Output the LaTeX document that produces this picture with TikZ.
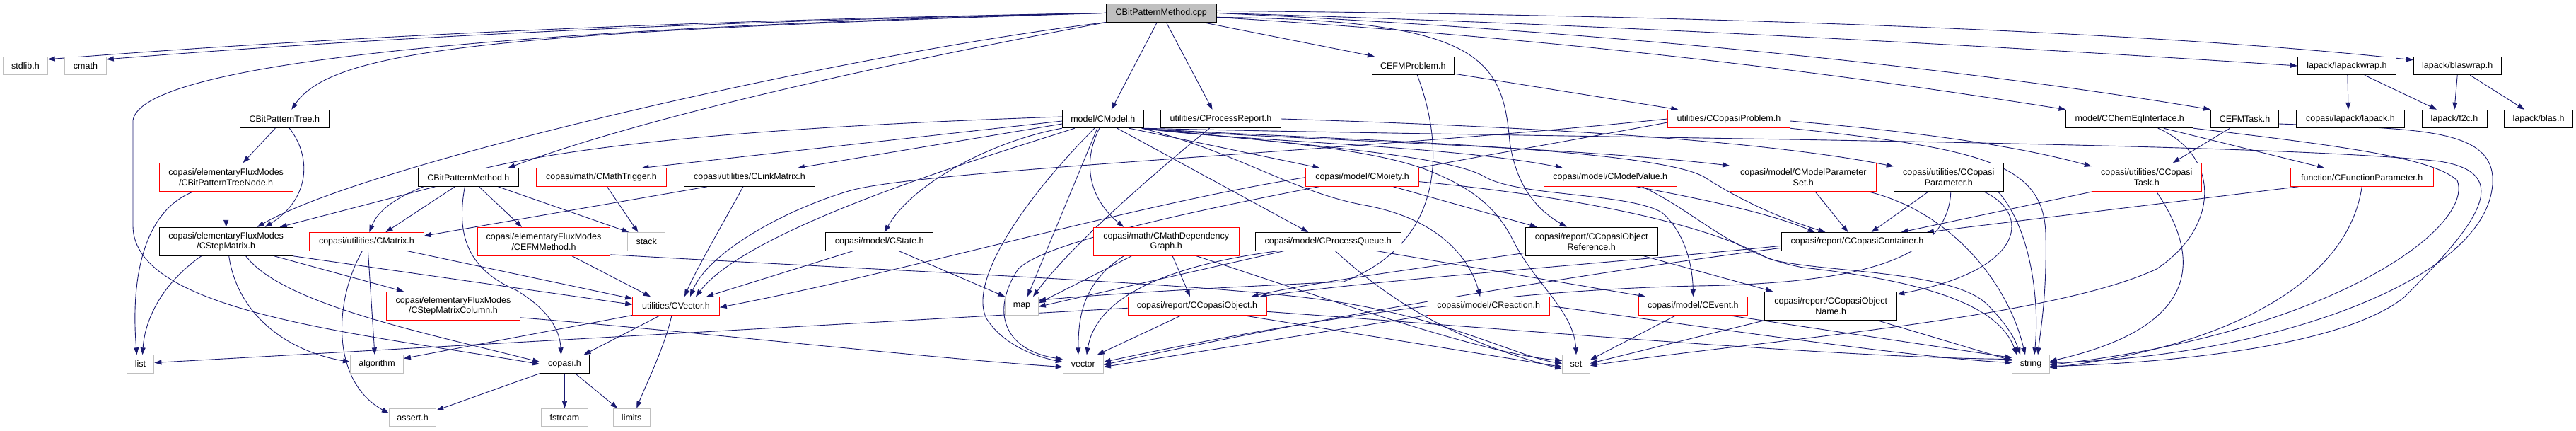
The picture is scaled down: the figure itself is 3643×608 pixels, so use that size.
\documentclass[tikz,border=0pt]{standalone}
\usepackage{fontspec}
\setmainfont{Liberation Sans}
\usetikzlibrary{arrows.meta}
\definecolor{edgec}{HTML}{191970}
\definecolor{graybd}{HTML}{BFBFBF}
\definecolor{rootfill}{HTML}{BFBFBF}
\definecolor{redbd}{HTML}{FF0000}
\pgfdeclarelayer{background}
\pgfsetlayers{background,main}
\tikzset{
 nd/.style={rectangle, inner sep=0pt, minimum height=25.4pt, align=center, fill=white, line width=1pt,
   font=\fontsize{12.5}{14.5}\selectfont},
 blk/.style={nd, draw=black},
 rdn/.style={nd, draw=redbd},
 gry/.style={nd, draw=graybd},
 dbl/.style={minimum height=40pt},
 e/.style={draw=edgec, line width=0.9pt, -{Triangle[length=10pt,width=7pt]}},
}
\begin{document}
\begin{tikzpicture}[x=1pt,y=1pt]
\useasboundingbox (0,0) rectangle (3643,-608);
% row 0
\node[blk, fill=rootfill, minimum width=156pt] (root) at (1642.3,-18.4) {CBitPatternMethod.cpp};
% row 1
\node[gry, minimum width=62.5pt] (stdlib) at (36,-93) {stdlib.h};
\node[gry, minimum width=58.6pt] (cmath) at (121,-93) {cmath};
\node[blk, minimum width=115.8pt] (CEFMProblem) at (1998.3,-93) {CEFMProblem.h};
\node[blk, minimum width=139.2pt] (lapackwrap) at (3318.9,-93) {lapack/lapackwrap.h};
\node[blk, minimum width=124pt] (blaswrap) at (3475.2,-93) {lapack/blaswrap.h};
% row 2
\node[blk, minimum width=126pt] (CBitPatternTree) at (402.3,-168) {CBitPatternTree.h};
\node[blk, minimum width=115pt] (CModel) at (1559.8,-168) {model/CModel.h};
\node[blk, minimum width=169.6pt] (CProcessReport) at (1726.5,-168) {utilities/CProcessReport.h};
\node[rdn, minimum width=172.6pt] (CCopasiProblem) at (2445,-168) {utilities/CCopasiProblem.h};
\node[blk, minimum width=179.7pt] (CChemEqInterface) at (3011.8,-168) {model/CChemEqInterface.h};
\node[blk, minimum width=95.7pt] (CEFMTask) at (3174.5,-168) {CEFMTask.h};
\node[blk, minimum width=153.6pt] (lapack) at (3324,-168) {copasi/lapack/lapack.h};
\node[blk, minimum width=92pt] (f2c) at (3471,-168) {lapack/f2c.h};
\node[blk, minimum width=97.7pt] (blas) at (3590,-168) {lapack/blas.h};
% row 3
\node[rdn, dbl, minimum width=188.6pt] (CBitPatternTreeNode) at (319.7,-250.6) {copasi/elementaryFluxModes\\/CBitPatternTreeNode.h};
\node[blk, minimum width=142.5pt] (CBitPatternMethodH) at (662.4,-250.6) {CBitPatternMethod.h};
\node[rdn, minimum width=183.9pt] (CMathTrigger) at (850.5,-250.6) {copasi/math/CMathTrigger.h};
\node[blk, minimum width=185.1pt] (CLinkMatrix) at (1059.9,-250.6) {copasi/utilities/CLinkMatrix.h};
\node[rdn, minimum width=159.3pt] (CMoiety) at (1926.5,-250.6) {copasi/model/CMoiety.h};
\node[rdn, minimum width=188.2pt] (CModelValue) at (2277.3,-250.6) {copasi/model/CModelValue.h};
\node[rdn, dbl, minimum width=207.3pt] (CModelParameterSet) at (2550.3,-250.6) {copasi/model/CModelParameter\\Set.h};
\node[blk, dbl, minimum width=155pt] (CCopasiParameter) at (2755.8,-250.6) {copasi/utilities/CCopasi\\Parameter.h};
\node[rdn, dbl, minimum width=155pt] (CCopasiTask) at (3035.8,-250.6) {copasi/utilities/CCopasi\\Task.h};
\node[rdn, minimum width=201.7pt] (CFunctionParameter) at (3340.2,-250.6) {function/CFunctionParameter.h};
% row 4
\node[blk, dbl, minimum width=188.6pt] (CStepMatrix) at (319.7,-341.3) {copasi/elementaryFluxModes\\/CStepMatrix.h};
\node[rdn, minimum width=161.3pt] (CMatrix) at (518.4,-341.3) {copasi/utilities/CMatrix.h};
\node[rdn, dbl, minimum width=187.8pt] (CEFMMethod) at (769,-341.3) {copasi/elementaryFluxModes\\/CEFMMethod.h};
\node[gry, minimum width=53pt] (stack) at (914.3,-341.3) {stack};
\node[blk, minimum width=152pt] (CState) at (1243.8,-341.3) {copasi/model/CState.h};
\node[rdn, dbl, minimum width=205.7pt] (CMathDependencyGraph) at (1649.2,-341.3) {copasi/math/CMathDependency\\Graph.h};
\node[blk, minimum width=205.8pt] (CProcessQueue) at (1878.2,-341.3) {copasi/model/CProcessQueue.h};
\node[blk, dbl, minimum width=186.7pt] (CCopasiObjectReference) at (2250.7,-341.3) {copasi/report/CCopasiObject\\Reference.h};
\node[blk, minimum width=213.6pt] (CCopasiContainer) at (2626.5,-341.3) {copasi/report/CCopasiContainer.h};
% row 5
\node[rdn, dbl, minimum width=188.3pt] (CStepMatrixColumn) at (641,-432.3) {copasi/elementaryFluxModes\\/CStepMatrixColumn.h};
\node[rdn, minimum width=122.6pt] (CVector) at (956,-432.3) {utilities/CVector.h};
\node[gry, minimum width=46.6pt] (map) at (1445,-432.3) {map};
\node[rdn, minimum width=196pt] (CCopasiObject) at (1693,-432.3) {copasi/report/CCopasiObject.h};
\node[rdn, minimum width=171.7pt] (CReaction) at (2105.2,-432.3) {copasi/model/CReaction.h};
\node[rdn, minimum width=153.5pt] (CEvent) at (2394.4,-432.3) {copasi/model/CEvent.h};
\node[blk, dbl, minimum width=187pt] (CCopasiObjectName) at (2589.2,-432.3) {copasi/report/CCopasiObject\\Name.h};
% row 6
\node[gry, minimum width=38.8pt] (list) at (198.5,-514.5) {list};
\node[gry, minimum width=75pt] (algorithm) at (533,-514.5) {algorithm};
\node[blk, minimum width=69.6pt] (copasi) at (798.5,-514.5) {copasi.h};
\node[gry, minimum width=57pt] (vector) at (1531.8,-514.5) {vector};
\node[gry, minimum width=38.6pt] (set) at (2229,-514.5) {set};
\node[gry, minimum width=52.6pt] (string) at (2872,-514.5) {string};
% row 7
\node[gry, minimum width=66.4pt] (assert) at (583.6,-590) {assert.h};
\node[gry, minimum width=65.6pt] (fstream) at (798.5,-590) {fstream};
\node[gry, minimum width=51.8pt] (limits) at (893.2,-590) {limits};

\begin{pgfonlayer}{background}
% ---- edges from root
\draw[e] (root.west) .. controls (1000,-28) and (500,-50) .. ([yshift=-4pt]stdlib.north east);
\draw[e] (root.west) .. controls (1000,-30) and (550,-52) .. ([yshift=-4pt]cmath.north east);
\draw[e] (root.west) .. controls (700,-45) and (470,-70) .. ([xshift=10pt]CBitPatternTree.north);
\draw[e] (root.west) .. controls (700,-40) and (200,-90) .. (188,-170) -- (188,-320) .. controls (190,-440) and (500,-470) .. (copasi.west);
\draw[e] (root.south west) .. controls (1200,-75) and (520,-230) .. ([xshift=44pt]CStepMatrix.north);
\draw[e] (root.south west) .. controls (1200,-100) and (900,-170) .. ([xshift=56pt]CBitPatternMethodH.north);
\draw[e] ([xshift=-6pt]root.south) -- ([xshift=12pt]CModel.north);
\draw[e] ([xshift=7pt]root.south) -- ([xshift=-12pt]CProcessReport.north);
\draw[e] ([xshift=-20pt]root.south east) -- ([xshift=4pt]CEFMProblem.north west);
\draw[e] ([yshift=-6pt]root.east) .. controls (2090,-28) and (2125,-80) .. (2135,-200) .. controls (2145,-270) and (2180,-300) .. ([xshift=-35pt]CCopasiObjectReference.north);
\draw[e] ([yshift=-6pt]root.east) .. controls (2300,-60) and (2700,-120) .. (CChemEqInterface.north west);
\draw[e] (root.east) .. controls (2300,-45) and (2800,-100) .. (CEFMTask.north west);
\draw[e] (root.east) .. controls (2300,-35) and (2900,-70) .. (lapackwrap.west);
\draw[e] ([yshift=3pt]root.east) .. controls (2300,-20) and (3000,-40) .. ([yshift=-5pt]blaswrap.north west);

% ---- row 1
\draw[e] ([yshift=2pt]CEFMProblem.south east) -- ([xshift=15pt]CCopasiProblem.north west);
\draw[e] ([xshift=6pt]CEFMProblem.south) .. controls (2040,-200) and (2050,-340) .. (1900,-398) .. controls (1800,-403) and (1600,-412) .. ([yshift=8pt]map.east);
\draw[e] ([xshift=1pt]lapackwrap.south) -- ([xshift=-3pt]lapack.north);
\draw[e] ([xshift=25pt]lapackwrap.south) -- ([xshift=-25pt]f2c.north);
\draw[e] (blaswrap.south) -- (f2c.north);
\draw[e] ([xshift=18pt]blaswrap.south) -- ([xshift=-20pt]blas.north);

% ---- left part
\draw[e] ([xshift=-13pt]CBitPatternTree.south) -- ([xshift=24pt]CBitPatternTreeNode.north);
\draw[e] ([xshift=7pt]CBitPatternTree.south) .. controls (440,-220) and (440,-280) .. ([xshift=55pt]CStepMatrix.north);
\draw[e] (CBitPatternTreeNode) -- (CStepMatrix);
\draw[e] ([xshift=-47pt]CBitPatternTreeNode.south) .. controls (200,-300) and (185,-400) .. ([xshift=-5pt]list.north);
\draw[e] ([xshift=-35pt]CStepMatrix.south) .. controls (230,-400) and (205,-450) .. ([xshift=3pt]list.north);
\draw[e] ([xshift=4pt]CStepMatrix.south) .. controls (335,-440) and (400,-495) .. ([yshift=3pt]algorithm.west);
\draw[e] ([xshift=68pt]CStepMatrix.south) -- ([xshift=-70pt]CStepMatrixColumn.north);
\draw[e] (CStepMatrix.south east) -- ([yshift=2pt]CVector.west);
\draw[e] ([xshift=28pt]CStepMatrix.south) .. controls (400,-430) and (600,-470) .. ([yshift=3pt]copasi.west);
\draw[e] ([xshift=-6pt]CMatrix.south) .. controls (470,-430) and (470,-540) .. ([yshift=6pt]assert.west);
\draw[e] ([xshift=2pt]CMatrix.south) -- ([xshift=-3pt]algorithm.north);
\draw[e] ([xshift=57pt]CMatrix.south) -- ([yshift=-3pt]CVector.north west);
\draw[e] ([xshift=-47pt]CBitPatternMethodH.south) -- ([xshift=76pt]CStepMatrix.north);
\draw[e] ([xshift=-19pt]CBitPatternMethodH.south) -- ([xshift=27pt]CMatrix.north);
\draw[e] ([xshift=-5pt]CBitPatternMethodH.south) .. controls (645,-330) and (660,-380) .. (730,-410) .. controls (780,-440) and (792,-470) .. ([xshift=-5pt]copasi.north);
\draw[e] ([xshift=15pt]CBitPatternMethodH.south) -- ([xshift=-31pt]CEFMMethod.north);
\draw[e] ([xshift=42pt]CBitPatternMethodH.south) -- ([xshift=2pt]stack.north west);
\draw[e] ([xshift=8pt]CMathTrigger.south) -- ([xshift=-12pt]stack.north);
\draw[e] ([xshift=-60pt]CLinkMatrix.south) -- ([yshift=8pt]CMatrix.east);
\draw[e] ([xshift=-9pt]CLinkMatrix.south) .. controls (1020,-320) and (985,-380) .. ([xshift=12pt]CVector.north);
\draw[e] ([xshift=40pt]CEFMMethod.south) -- ([xshift=-36pt]CVector.north);
\draw[e] ([yshift=2pt]CEFMMethod.south east) .. controls (1300,-385) and (1750,-402) .. (1900,-428) .. controls (2050,-452) and (2150,-505) .. ([yshift=1pt]set.west);
\draw[e] ([xshift=27pt]CState.south) -- (map.north west);
\draw[e] ([xshift=-37pt]CState.south) -- ([xshift=43pt]CVector.north);
\draw[e] (CVector.south west) -- ([yshift=8pt]algorithm.east);
\draw[e] ([xshift=-22pt]CVector.south) -- ([xshift=27pt]copasi.north);
\draw[e] ([xshift=-6pt]CVector.south) .. controls (940,-490) and (915,-540) .. ([xshift=7pt]limits.north);
\draw[e] (copasi.south west) -- ([yshift=-3pt]assert.north east);
\draw[e] (copasi) -- (fstream);
\draw[e] ([xshift=15pt]copasi.south) -- ([xshift=-20pt]limits.north);
\draw[e] ([yshift=4pt]CStepMatrixColumn.south east) .. controls (1000,-470) and (1300,-505) .. ([yshift=-4pt]vector.west);

% ---- CModel
\draw[e] ([yshift=3pt]CModel.west) .. controls (900,-185) and (560,-230) .. ([xshift=4pt]CMatrix.north);
\draw[e] ([yshift=-3pt]CModel.west) -- ([xshift=57pt]CMathTrigger.north);
\draw[e] ([yshift=-7pt]CModel.west) -- ([xshift=68pt]CLinkMatrix.north);
\draw[e] (CModel.south west) .. controls (1400,-200) and (1290,-260) .. ([xshift=7pt]CState.north);
\draw[e] ([xshift=-40pt]CModel.south) .. controls (1400,-220) and (1060,-320) .. ([xshift=28pt]CVector.north);
\draw[e] ([xshift=-8pt]CModel.south) -- ([xshift=8pt]map.north);
\draw[e] ([xshift=-12pt]CModel.south) .. controls (1440,-290) and (1370,-400) .. (1395,-450) .. controls (1420,-490) and (1470,-505) .. ([yshift=3pt]vector.west);
\draw[e] ([xshift=-5pt]CModel.south) .. controls (1530,-230) and (1540,-280) .. ([xshift=-60pt]CMathDependencyGraph.north);
\draw[e] ([xshift=20pt]CModel.south) -- ([xshift=-28pt]CProcessQueue.north);
\draw[e] ([xshift=37pt]CModel.south) -- ([xshift=-60pt]CMoiety.north);
\draw[e] ([xshift=-3pt]CModel.south east) .. controls (1750,-200) and (2050,-205) .. ([xshift=-67pt]CModelValue.north);
\draw[e] ([xshift=-3pt]CModel.south east) .. controls (1750,-195) and (2200,-205) .. ([yshift=-4pt]CModelParameterSet.north west);
\draw[e] ([xshift=-3pt]CModel.south east) .. controls (1750,-215) and (1830,-272) .. (1930,-290) .. controls (2040,-310) and (2080,-370) .. ([xshift=-12pt]CReaction.north);
\draw[e] ([xshift=-3pt]CModel.south east) .. controls (1850,-205) and (2050,-220) .. (2100,-250) .. controls (2150,-278) and (2300,-272) .. (2350,-300) .. controls (2385,-330) and (2394,-380) .. (CEvent.north);
\draw[e] ([xshift=-3pt]CModel.south east) .. controls (1800,-200) and (1950,-210) .. (2030,-245) .. controls (2090,-270) and (2120,-300) .. (2140,-340) .. controls (2170,-400) and (2226,-440) .. (set.north);
\draw[e] ([xshift=-3pt]CModel.south east) .. controls (1800,-195) and (2330,-205) .. (2410,-250) .. controls (2480,-295) and (2540,-315) .. ([xshift=-45pt]CCopasiContainer.north);
\draw[e] ([xshift=-3pt]CModel.south east) .. controls (2200,-195) and (3200,-200) .. (3450,-228) .. controls (3560,-245) and (3500,-320) .. (3400,-420) .. controls (3300,-500) and (3000,-515) .. ([yshift=-3pt]string.east);

% ---- CProcessReport
\draw[e] ([xshift=-16pt]CProcessReport.south) .. controls (1650,-230) and (1520,-340) .. ([xshift=16pt]map.north);
\draw[e] (CProcessReport.east) .. controls (2200,-180) and (2500,-200) .. ([yshift=-5pt]CCopasiParameter.north west);

% ---- CCopasiProblem
\draw[e] (CCopasiProblem.west) .. controls (1900,-215) and (1300,-240) .. (1200,-270) .. controls (1100,-300) and (1000,-360) .. ([xshift=20pt]CVector.north);
\draw[e] ([yshift=-5pt]CCopasiProblem.west) .. controls (2000,-240) and (1500,-320) .. (1440,-380) .. controls (1400,-440) and (1420,-495) .. ([yshift=7pt]vector.west);
\draw[e] (CCopasiProblem.south east) .. controls (2800,-210) and (2890,-230) .. (2893,-330) .. controls (2895,-420) and (2885,-470) .. ([xshift=10pt]string.north);
\draw[e] ([yshift=-3pt]CCopasiProblem.east) .. controls (2700,-185) and (2850,-205) .. ([yshift=-5pt]CCopasiTask.north west);

% ---- right group
\draw[e] ([xshift=-21pt]CEFMTask.south) -- ([xshift=37pt]CCopasiTask.north);
\draw[e] ([yshift=-7pt]CEFMTask.east) .. controls (3420,-182) and (3530,-180) .. (3525,-260) .. controls (3515,-400) and (3200,-505) .. ([yshift=2pt]string.east);
\draw[e] ([xshift=48pt]CChemEqInterface.south) -- ([xshift=-53pt]CFunctionParameter.north);
\draw[e] (CChemEqInterface.south east) .. controls (3300,-205) and (3440,-222) .. (3475,-255) .. controls (3500,-320) and (3300,-470) .. ([yshift=-1pt]string.east);
\draw[e] ([xshift=40pt]CChemEqInterface.south) .. controls (3140,-220) and (3140,-320) .. (3050,-380) .. controls (2900,-450) and (2500,-480) .. ([yshift=-2pt]set.east);
\draw[e] ([xshift=-90pt]CFunctionParameter.south) -- ([xshift=-9pt]CCopasiContainer.north east);
\draw[e] (CFunctionParameter.south) .. controls (3320,-400) and (3150,-490) .. ([yshift=-5pt]string.east);
\draw[e] (CCopasiTask.south west) -- ([xshift=62pt]CCopasiContainer.north);
\draw[e] ([xshift=14pt]CCopasiTask.south) .. controls (3110,-360) and (3120,-460) .. ([yshift=4pt]string.east);

% ---- parameter / container group
\draw[e] ([xshift=17pt]CModelParameterSet.south) -- ([xshift=-13pt]CCopasiContainer.north);
\draw[e] ([xshift=93pt]CModelParameterSet.south) .. controls (2760,-300) and (2840,-400) .. ([xshift=-8pt]string.north);
\draw[e] ([xshift=-29pt]CCopasiParameter.south) -- ([xshift=20pt]CCopasiContainer.north);
\draw[e] ([xshift=50pt]CCopasiParameter.south) .. controls (2870,-300) and (2870,-380) .. ([yshift=-4pt]CCopasiObjectName.north east);
\draw[e] ([xshift=70pt]CCopasiParameter.south) .. controls (2870,-320) and (2885,-420) .. ([xshift=5pt]string.north);
\draw[e] ([xshift=3pt]CCopasiParameter.south) .. controls (2755,-360) and (2650,-400) .. (2400,-404) .. controls (2100,-410) and (1800,-460) .. ([yshift=3pt]vector.east);
\draw[e] ([yshift=-6pt]CCopasiContainer.west) .. controls (2300,-370) and (1950,-395) .. ([xshift=-10pt]CCopasiObject.north east);
\draw[e] ([yshift=-9pt]CCopasiContainer.west) .. controls (2300,-378) and (1900,-440) .. ([yshift=-1pt]vector.east);
\draw[e] ([xshift=66pt]CCopasiObjectName.south) -- ([yshift=5pt]string.west);
\draw[e] (CCopasiObjectName.south west) -- ([yshift=1pt]set.east);

% ---- CCopasiObject
\draw[e] ([yshift=-3pt]CCopasiObject.west) -- ([yshift=2pt]list.east);
\draw[e] ([xshift=-22pt]CCopasiObject.south) -- ([xshift=20pt]vector.north);
\draw[e] ([xshift=64pt]CCopasiObject.south) -- ([yshift=-4pt]set.west);
\draw[e] ([yshift=-8pt]CCopasiObject.east) .. controls (2200,-470) and (2600,-505) .. ([yshift=7pt]string.west);

% ---- CMathDependencyGraph
\draw[e] ([xshift=-49pt]CMathDependencyGraph.south) -- ([yshift=4pt]map.east);
\draw[e] ([xshift=-60pt]CMathDependencyGraph.south) .. controls (1530,-400) and (1525,-450) .. ([xshift=-7pt]vector.north);
\draw[e] ([xshift=9pt]CMathDependencyGraph.south) -- ([xshift=-10pt]CCopasiObject.north);
\draw[e] ([xshift=43pt]CMathDependencyGraph.south) .. controls (1900,-430) and (2100,-500) .. ([yshift=5pt]set.west);

% ---- CProcessQueue
\draw[e] ([xshift=-62pt]CProcessQueue.south) -- ([yshift=-1pt]map.east);
\draw[e] ([xshift=-70pt]CProcessQueue.south) .. controls (1650,-375) and (1550,-420) .. ([xshift=5pt]vector.north);
\draw[e] ([xshift=10pt]CProcessQueue.south) .. controls (1960,-420) and (2050,-480) .. ([yshift=-7pt]set.west);
\draw[e] ([xshift=68pt]CProcessQueue.south) -- ([xshift=10pt]CEvent.north west);

% ---- misc
\draw[e] ([xshift=44pt]CMoiety.south) -- ([xshift=-77pt]CCopasiObjectReference.north);
\draw[e] ([yshift=-6pt]CMoiety.east) .. controls (2250,-280) and (2420,-320) .. (2500,-365) .. controls (2560,-385) and (2760,-380) .. (2810,-430) .. controls (2840,-460) and (2850,-480) .. ([xshift=-15pt]string.north);
\draw[e] (CMoiety.west) .. controls (1600,-290) and (1300,-380) .. ([yshift=-2pt]CVector.east);
\draw[e] ([xshift=37pt]CModelValue.south) .. controls (2400,-280) and (2500,-300) .. ([xshift=-60pt]CCopasiContainer.north);
\draw[e] ([xshift=45pt]CModelValue.south) .. controls (2400,-300) and (2450,-360) .. (2550,-378) .. controls (2750,-400) and (2830,-440) .. ([xshift=-20pt]string.north);
\draw[e] (CReaction.east) .. controls (2400,-460) and (2700,-505) .. ([yshift=2pt]string.west);
\draw[e] (CReaction.south west) -- ([yshift=-4pt]vector.east);
\draw[e] ([xshift=-24pt]CEvent.south) -- ([yshift=6pt]set.east);
\draw[e] ([xshift=49pt]CEvent.south) -- ([yshift=9pt]string.west);
\draw[e] ([yshift=-16pt]CCopasiObjectReference.west) .. controls (2000,-380) and (1850,-400) .. ([xshift=-22pt]CCopasiObject.north east);
\draw[e] ([xshift=74pt]CCopasiObjectReference.south) -- ([xshift=-82pt]CCopasiObjectName.north);
\end{pgfonlayer}
\end{tikzpicture}
\end{document}
